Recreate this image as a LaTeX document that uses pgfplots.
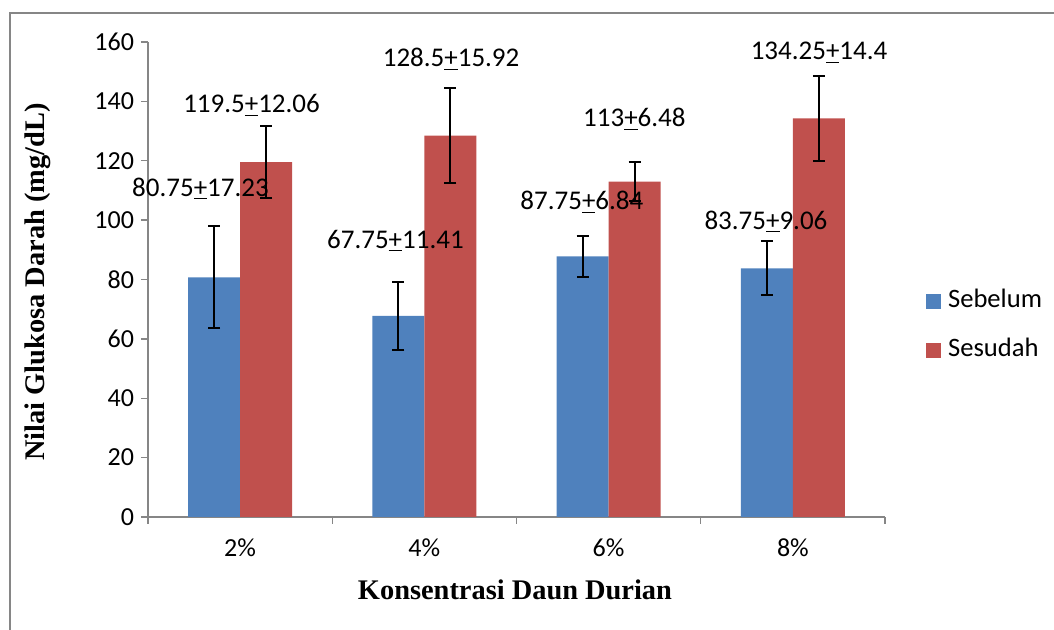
\documentclass[border=0pt]{standalone}
\usepackage{fontspec}
\setmainfont{Carlito}
\newfontfamily\seriffont{Liberation Serif}
\usepackage{pgfplots}
\pgfplotsset{compat=1.18}
\definecolor{sebelum}{HTML}{4F81BD}
\definecolor{sesudah}{HTML}{C0504D}
\definecolor{axisgray}{HTML}{868686}
\begin{document}
\begin{tikzpicture}[x=1pt,y=1pt]
\useasboundingbox (-74,-56.5) rectangle (453,258.5);
\draw[axisgray, line width=0.7pt] (-69,-56.5) -- (-69,252) -- (453,252);
\begin{axis}[
  at={(0,0)}, anchor=south west,
  scale only axis, width=368.5pt, height=237.5pt,
  ybar=0pt, bar width=0.282,
  xmin=-0.5, xmax=3.5, ymin=0, ymax=160,
  ytick={0,20,...,160},
  xtick={-0.5,0.5,1.5,2.5,3.5}, xticklabels={},
  extra x ticks={0,1,2,3},
  extra x tick labels={2\%,4\%,6\%,8\%},
  extra x tick style={major tick length=0pt, tick label style={yshift=-7.5pt}},
  axis x line*=bottom, axis y line*=left,
  axis line style={axisgray, line width=0.7pt},
  tick align=outside,
  major tick length=3.5pt,
  tick style={axisgray, line width=0.7pt},
  /pgf/number format/assume math mode=true,
  tick label style={font=\fontsize{13}{15}\selectfont, black},
  clip=false,
  legend style={at={(1.047,0.403)}, anchor=west, draw=none, fill=none,
    font=\fontsize{13.3}{15}\selectfont, row sep=9.5pt,
    nodes={text height=9pt, text depth=3pt, inner sep=1.5pt}},
  legend image code/.code={\draw[#1,draw=none] (0pt,-3.75pt) rectangle (7.5pt,3.75pt);\path (9.5pt,0pt);},
  legend cell align=left,
]
\addplot[fill=sebelum, draw=none,
  error bars/.cd, y dir=both, y explicit,
  error bar style={black, line width=1pt},
  error mark options={rotate=90, mark size=3pt, black, line width=1pt}]
  coordinates {(0,80.75) +- (0,17.23) (1,67.75) +- (0,11.41) (2,87.75) +- (0,6.84) (3,83.75) +- (0,9.06)};
\addplot[fill=sesudah, draw=none,
  error bars/.cd, y dir=both, y explicit,
  error bar style={black, line width=1pt},
  error mark options={rotate=90, mark size=3pt, black, line width=1pt}]
  coordinates {(0,119.5) +- (0,12.06) (1,128.5) +- (0,15.92) (2,113) +- (0,6.48) (3,134.25) +- (0,14.4)};
\legend{Sebelum,Sesudah}
\begin{scope}[every node/.style={anchor=base, inner sep=0pt, font=\fontsize{13.5}{15}\selectfont}]
\node at (axis cs:-0.215,108.1) {80.75\underline{+}17.23};
\node at (axis cs:0.062,136.1) {119.5\underline{+}12.06};
\node at (axis cs:0.843,90.6) {67.75\underline{+}11.41};
\node at (axis cs:1.145,151.6) {128.5\underline{+}15.92};
\node at (axis cs:1.855,103.7) {87.75\underline{+}6.84};
\node at (axis cs:2.140,131.4) {113\underline{+}6.48};
\node at (axis cs:2.854,97.0) {83.75\underline{+}9.06};
\node at (axis cs:3.142,154.2) {134.25\underline{+}14.4};
\end{scope}
\end{axis}
\node[rotate=90, font=\seriffont\bfseries\fontsize{14.2}{16}\selectfont] at (-55,117.5) {Nilai Glukosa Darah (mg/dL)};
\node[font=\seriffont\bfseries\fontsize{14.2}{16}\selectfont] at (183.5,-36.5) {Konsentrasi Daun Durian};
\end{tikzpicture}
\end{document}
